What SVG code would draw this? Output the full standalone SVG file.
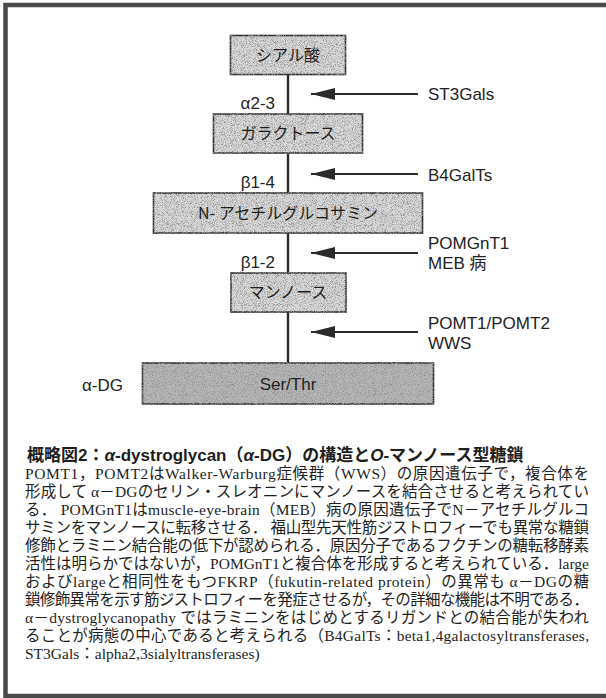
<svg xmlns="http://www.w3.org/2000/svg" width="606" height="698" viewBox="0 0 606 698">
<defs>
<style>
.box{stroke:#2b2b2b;stroke-width:1.6}
.light{fill:#d8d8d8}
.dark{fill:#b6b6b6}
.jp{font-family:"Noto Sans CJK JP","Liberation Sans",sans-serif;font-size:16px;fill:#1e1e1e;text-anchor:middle}
.lat{font-family:"Liberation Sans","Noto Sans CJK JP",sans-serif;font-size:17px;fill:#222222}
.link{stroke:#2b2b2b;stroke-width:2.4;fill:none}
.arr{stroke:#2b2b2b;stroke-width:2;fill:none;marker-end:url(#head)}
.cap{font-family:"Liberation Serif","Noto Sans CJK JP",serif;font-size:15.5px;fill:#1e1e1e}
.title{font-family:"Liberation Sans","Noto Sans CJK JP",sans-serif;font-size:17px;font-weight:bold;fill:#1e1e1e}
</style>
<marker id="head" markerUnits="userSpaceOnUse" markerWidth="24" markerHeight="12" refX="24" refY="6" orient="auto">
<path d="M0,0 L24,6 L0,12 z" fill="#2b2b2b"/>
</marker>
<filter id="speck" x="-5%" y="-5%" width="110%" height="110%">
<feTurbulence type="fractalNoise" baseFrequency="1.1" numOctaves="2" seed="7" result="t"/>
<feColorMatrix in="t" type="matrix" values="0 0 0 0 0.3  0 0 0 0 0.3  0 0 0 0 0.3  4 0 0 0 -1.85" result="d"/>
<feComposite in="d" in2="SourceGraphic" operator="in" result="dc"/>
<feMerge><feMergeNode in="SourceGraphic"/><feMergeNode in="dc"/></feMerge>
</filter>
</defs>
<rect x="0" y="0" width="606" height="698" fill="#ffffff"/>
<rect x="5.5" y="5" width="620" height="691" fill="none" stroke="#4a4a4a" stroke-width="4.5"/>

<g id="connectors">
<line class="link" x1="288" y1="74" x2="288" y2="114"/>
<line class="link" x1="288" y1="153" x2="288" y2="193"/>
<line class="link" x1="288" y1="233" x2="288" y2="273"/>
<line class="link" x1="288" y1="312" x2="288" y2="363"/>
<line class="arr" x1="418" y1="94" x2="311" y2="94"/>
<line class="arr" x1="418" y1="174" x2="311" y2="174"/>
<line class="arr" x1="418" y1="253" x2="311" y2="253"/>
<line class="arr" x1="418" y1="332" x2="311" y2="332"/>
</g>

<g id="node-sialic">
<rect class="box light" x="230.5" y="35.5" width="115" height="39" filter="url(#speck)"/>
<text class="jp" x="288" y="61">シアル酸</text>
</g>
<g id="node-galactose">
<rect class="box light" x="213.5" y="114" width="149" height="39" filter="url(#speck)"/>
<text class="jp" x="288" y="139">ガラクトース</text>
</g>
<g id="node-glcnac">
<rect class="box light" x="153.5" y="193" width="269" height="40" filter="url(#speck)"/>
<text class="jp" x="288" y="219">N- アセチルグルコサミン</text>
</g>
<g id="node-mannose">
<rect class="box light" x="231" y="273" width="115" height="39" filter="url(#speck)"/>
<text class="jp" x="288" y="298">マンノース</text>
</g>
<g id="node-serthr">
<rect class="box dark" x="142.5" y="363" width="291" height="41" filter="url(#speck)"/>
<text class="lat" x="288" y="390" text-anchor="middle">Ser/Thr</text>
</g>

<g id="label-linkages">
<text class="lat" x="275" y="109" text-anchor="end">α2-3</text>
<text class="lat" x="275" y="188" text-anchor="end">β1-4</text>
<text class="lat" x="275" y="268" text-anchor="end">β1-2</text>
<text class="lat" x="82" y="391">α-DG</text>
</g>

<g id="label-enzymes">
<text class="lat" x="428" y="100">ST3Gals</text>
<text class="lat" x="428" y="181">B4GalTs</text>
<text class="lat" x="428" y="249">POMGnT1</text>
<text class="lat" x="428" y="269">MEB 病</text>
<text class="lat" x="428" y="329">POMT1/POMT2</text>
<text class="lat" x="428" y="349">WWS</text>
</g>

<g id="caption">
<text class="title" x="27" y="461">概略図2：<tspan font-style="italic">α</tspan>-dystroglycan（<tspan font-style="italic">α</tspan>-DG）の構造と<tspan font-style="italic">O</tspan>-マンノース型糖鎖</text>
<text class="cap" x="25" y="479" textLength="564" lengthAdjust="spacing">POMT1，POMT2はWalker-Warburg症候群（WWS）の原因遺伝子で，複合体を</text>
<text class="cap" x="25" y="497" textLength="564" lengthAdjust="spacing">形成して α－DGのセリン・スレオニンにマンノースを結合させると考えられてい</text>
<text class="cap" x="25" y="515" textLength="564" lengthAdjust="spacing">る． POMGnT1はmuscle-eye-brain（MEB）病の原因遺伝子でN－アセチルグルコ</text>
<text class="cap" x="25" y="533" textLength="564" lengthAdjust="spacing">サミンをマンノースに転移させる． 福山型先天性筋ジストロフィーでも異常な糖鎖</text>
<text class="cap" x="25" y="551" textLength="564" lengthAdjust="spacing">修飾とラミニン結合能の低下が認められる．原因分子であるフクチンの糖転移酵素</text>
<text class="cap" x="25" y="569" textLength="564" lengthAdjust="spacing">活性は明らかではないが，POMGnT1と複合体を形成すると考えられている．large</text>
<text class="cap" x="25" y="587" textLength="564" lengthAdjust="spacing">およびlargeと相同性をもつFKRP（fukutin-related protein）の異常も α－DGの糖</text>
<text class="cap" x="25" y="605" textLength="564" lengthAdjust="spacing">鎖修飾異常を示す筋ジストロフィーを発症させるが，その詳細な機能は不明である．</text>
<text class="cap" x="25" y="623" textLength="564" lengthAdjust="spacing">α－dystroglycanopathy ではラミニンをはじめとするリガンドとの結合能が失われ</text>
<text class="cap" x="25" y="641" textLength="564" lengthAdjust="spacing">ることが病態の中心であると考えられる（B4GalTs：beta1,4galactosyltransferases,</text>
<text class="cap" x="25" y="659">ST3Gals：alpha2,3sialyltransferases)</text>
</g>
</svg>
